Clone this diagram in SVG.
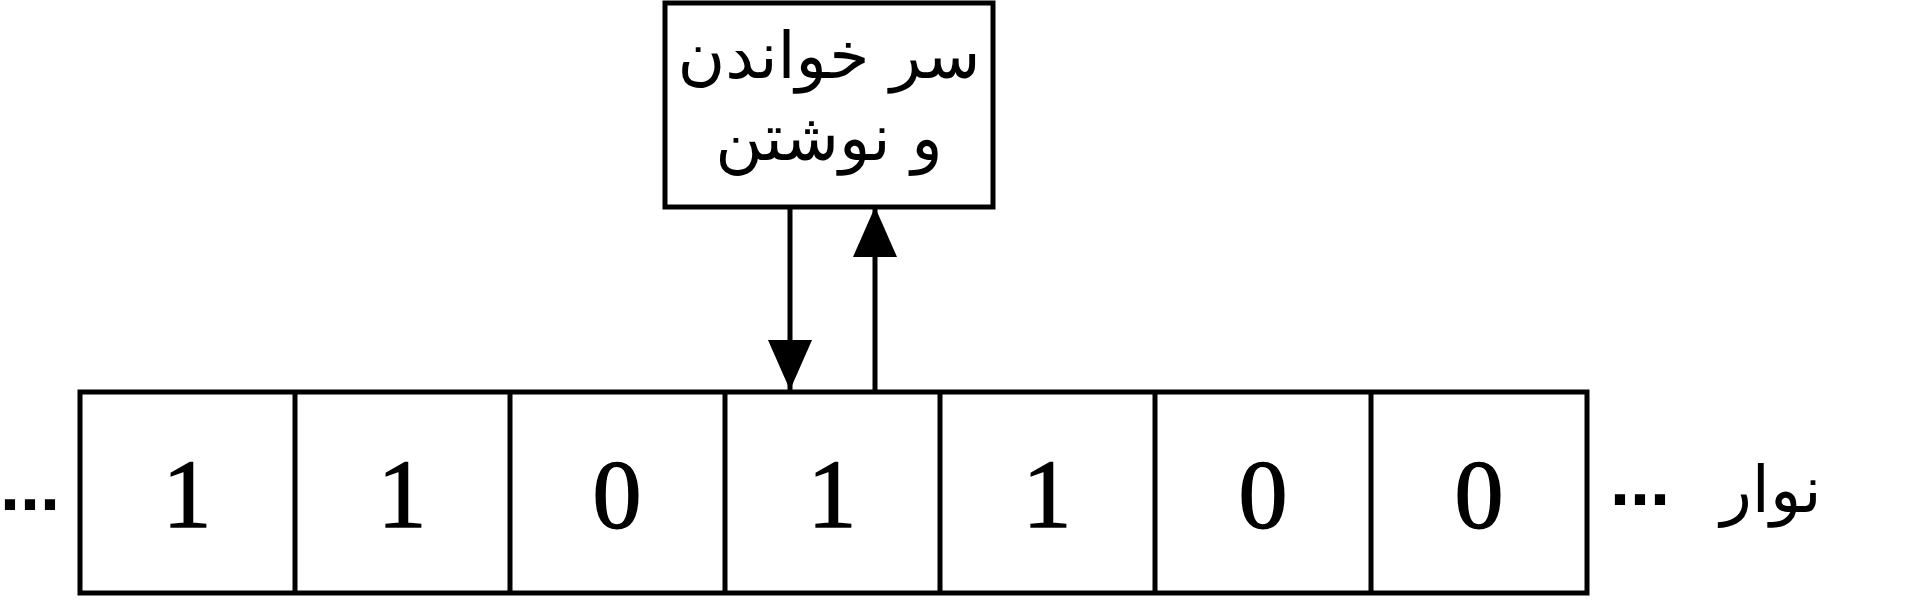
<svg xmlns="http://www.w3.org/2000/svg" width="1920" height="601" viewBox="0 0 1920 601">
<defs>
<style>
.ln{stroke:#000;stroke-width:5;fill:none}
.cell{fill:#fff;stroke:#000;stroke-width:5}
.dig{font-family:"Liberation Serif",serif;font-size:98px;text-anchor:middle;fill:#000;stroke:#000;stroke-width:1.5}
.fa{font-family:"DejaVu Sans",sans-serif;font-size:65px;text-anchor:middle;fill:#000}
.dots{font-family:"Liberation Sans",sans-serif;font-size:72px;font-weight:bold;fill:#000}
</style>
<marker id="ah" viewBox="0 0 50 44" refX="50" refY="22" markerWidth="50" markerHeight="44" markerUnits="userSpaceOnUse" orient="auto">
<path d="M0,0 L50,22 L0,44 Z" fill="#000"/>
</marker>
</defs>
<rect width="1920" height="601" fill="#fff"/>
<g id="head">
<rect class="cell" x="665" y="3" width="328" height="204"/>
<text class="fa" x="829" y="78" direction="rtl">سر خواندن</text>
<text class="fa" x="829" y="160" direction="rtl">و نوشتن</text>
</g>
<g id="connectors">
<line class="ln" x1="790" y1="207" x2="790" y2="390" marker-end="url(#ah)"/>
<line class="ln" x1="875" y1="392" x2="875" y2="207" marker-end="url(#ah)"/>
</g>
<g id="tape">
<rect class="cell" x="80" y="392" width="1507" height="201"/>
<line class="ln" x1="295" y1="392" x2="295" y2="593"/>
<line class="ln" x1="510" y1="392" x2="510" y2="593"/>
<line class="ln" x1="725" y1="392" x2="725" y2="593"/>
<line class="ln" x1="940" y1="392" x2="940" y2="593"/>
<line class="ln" x1="1155" y1="392" x2="1155" y2="593"/>
<line class="ln" x1="1371" y1="392" x2="1371" y2="593"/>
<text class="dig" x="187" y="527">1</text>
<text class="dig" x="402" y="527">1</text>
<text class="dig" x="617" y="527">0</text>
<text class="dig" x="832" y="527">1</text>
<text class="dig" x="1047" y="527">1</text>
<text class="dig" x="1263" y="527">0</text>
<text class="dig" x="1479" y="527">0</text>
</g>
<g id="labels">
<text class="dots" x="60" y="510" text-anchor="end">...</text>
<text class="dots" x="1610" y="505">...</text>
<text class="fa" x="1771" y="512" direction="rtl">نوار</text>
</g>
</svg>
